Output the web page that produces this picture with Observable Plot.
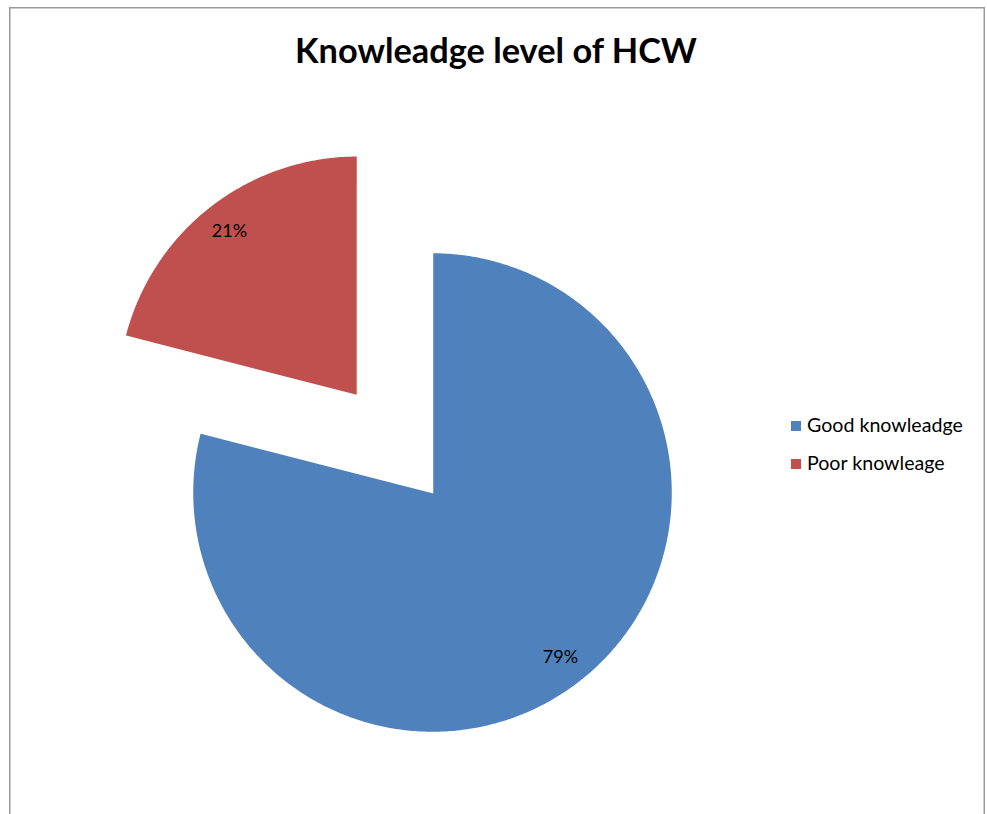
<!DOCTYPE html>
<html>
<head>
<meta charset="utf-8">
<script src="https://cdn.jsdelivr.net/npm/d3@7"></script>
<script src="https://cdn.jsdelivr.net/npm/@observablehq/plot@0.6"></script>
<style>
  html, body { margin: 0; padding: 0; background: #fff; }
  #chart { position: relative; width: 987px; height: 814px; overflow: hidden; }
  svg { display: block; }
</style>
</head>
<body>
<div id="chart"></div>
<script>
// ---- data ----
const title = "Knowleadge level of HCW";
const categories = ["Good knowleadge", "Poor knowleage"];
const values = [79, 21];
const colors = ["#4F81BD", "#C0504D"];
const explodeAmount = [0, 0.51];

// ---- geometry via d3.pie ----
const arcs = d3.pie().sort(null).value(d => d)(values);
const total = d3.sum(values);
const slicePts = [];
const labelPts = [];
arcs.forEach((a, i) => {
  const mid = (a.startAngle + a.endAngle) / 2;
  const ox = explodeAmount[i] * Math.sin(mid);
  const oy = explodeAmount[i] * Math.cos(mid);
  slicePts.push({x: ox, y: oy, cat: categories[i]});
  const n = Math.max(8, Math.ceil((a.endAngle - a.startAngle) / 0.01));
  for (let k = 0; k <= n; k++) {
    const t = a.startAngle + (a.endAngle - a.startAngle) * k / n;
    slicePts.push({x: ox + Math.sin(t), y: oy + Math.cos(t), cat: categories[i]});
  }
  labelPts.push({
    x: ox + 0.87 * Math.sin(mid),
    y: oy + 0.87 * Math.cos(mid),
    text: Math.round(values[i] / total * 100) + "%"
  });
});

const plot = Plot.plot({
  width: 987,
  height: 814,
  margin: 0,
  style: {fontFamily: "Lato, 'Open Sans', sans-serif", background: "white"},
  x: {domain: [-1, 1], range: [192, 672], axis: null},
  y: {domain: [-1, 1], range: [732, 252], axis: null},
  color: {domain: categories, range: colors},
  marks: [
    Plot.line(slicePts, {
      x: "x", y: "y", z: "cat", fill: "cat",
      stroke: "white", strokeWidth: 1.5, curve: "linear-closed",
      style: "filter: drop-shadow(1px 2px 1.5px rgba(0,0,0,0.35))"
    }),
    Plot.text(labelPts, {x: "x", y: "y", text: "text", fontSize: 18, fill: "black"})
  ]
});
document.getElementById("chart").appendChild(plot);

// ---- frame, title, legend ----
const svg = d3.select(plot);
svg.append("rect")
  .attr("x", 9.75).attr("y", 7.75).attr("width", 974.5).attr("height", 830)
  .attr("fill", "none").attr("stroke", "#9a9a9a").attr("stroke-width", 1.5);

function fit(sel, w) {
  const node = sel.node();
  let fs = parseFloat(sel.attr("font-size"));
  const len = node.getComputedTextLength();
  if (len > 0) sel.attr("font-size", fs * w / len);
}

const t = svg.append("text")
  .attr("x", 496).attr("y", 63).attr("text-anchor", "middle")
  .attr("font-family", "Lato, 'Open Sans', sans-serif")
  .attr("font-weight", "bold").attr("font-size", 32).attr("fill", "black")
  .text(title);
fit(t, 402);

const leg = svg.append("g")
  .attr("font-family", "Lato, 'Open Sans', sans-serif")
  .attr("text-anchor", "start");
const legY = [432, 470];
let legTexts = [];
categories.forEach((c, i) => {
  leg.append("rect").attr("x", 791).attr("y", legY[i] - 11).attr("width", 10).attr("height", 10)
    .attr("fill", colors[i]);
  legTexts.push(leg.append("text").attr("x", 807).attr("y", legY[i])
    .attr("text-anchor", "start")
    .attr("font-size", 18).attr("fill", "black").text(c));
});
// size legend font so the first entry matches the reference width
const l0 = legTexts[0].node().getComputedTextLength();
const fsL = 18 * 156 / l0;
legTexts.forEach(s => s.attr("font-size", fsL));
</script>
</body>
</html>
